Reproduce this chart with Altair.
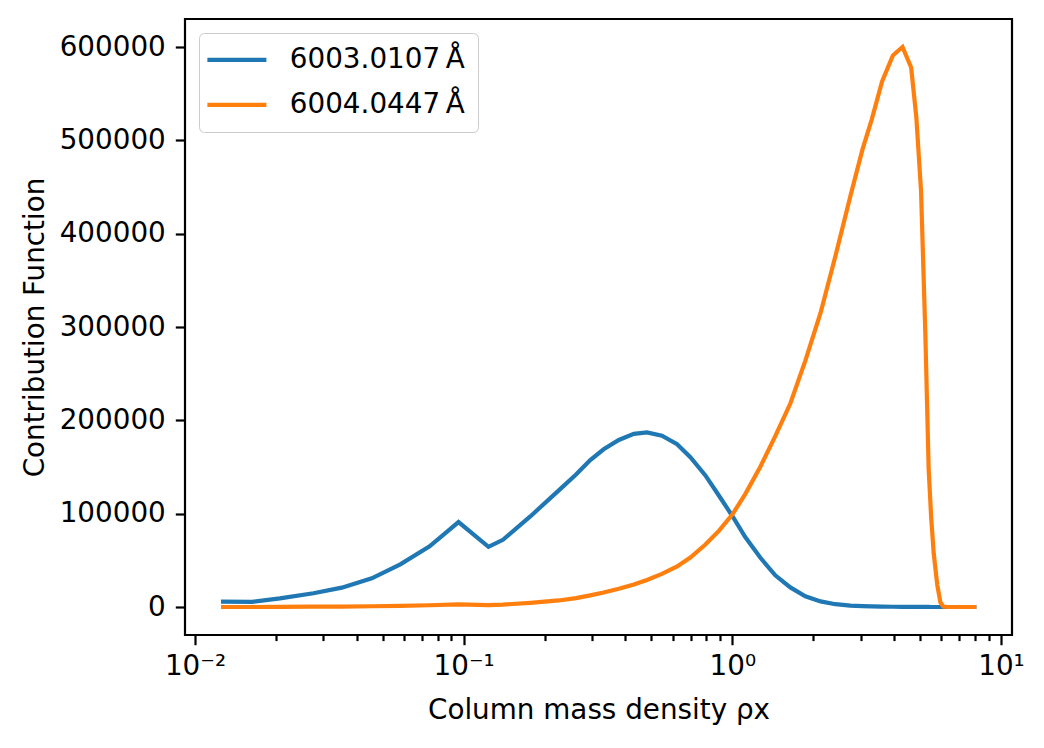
import altair as alt
import pandas as pd

# column mass density grid shared by both lines
col_mass = [0.0125, 0.0163, 0.0207, 0.0276, 0.0352, 0.0455, 0.0581, 0.0747, 0.0957, 0.1237,
            0.140, 0.177, 0.226, 0.262, 0.296, 0.332, 0.378, 0.430, 0.481, 0.547,
            0.623, 0.698, 0.794, 0.891, 1.0, 1.117, 1.27, 1.445, 1.644, 1.87,
            2.13, 2.42, 2.75, 3.05, 3.30, 3.61, 3.96, 4.30, 4.63, 4.84,
            5.04, 5.23, 5.38, 5.50, 5.62, 5.79, 5.95, 6.10, 6.30, 6.70,
            7.20, 7.70, 8.10]

# contribution function of each line
cf_6003 = [5700, 5500, 9300, 14700, 20700, 30700, 45700, 65000, 91000, 64500,
           72000, 97000, 125000, 142000, 157500, 169000, 179000, 185500, 187000, 183500,
           174500, 160500, 141000, 119500, 97500, 75000, 53000, 34000, 21000, 11500,
           6000, 3000, 1500, 900, 600, 400, 250, 150, 100, 80,
           60, 40, 30, 20, 10, 0, 0, 0, 0, 0,
           0, 0, 0]
cf_6004 = [0, 0, 200, 300, 500, 800, 1200, 1900, 2900, 2000,
           2600, 4500, 7000, 9500, 12500, 15500, 19500, 24000, 29000, 35500,
           43500, 53000, 67000, 81500, 99000, 121000, 150000, 183000, 218000, 264000,
           315000, 376000, 440000, 490000, 522000, 563000, 591000, 600000, 578000, 525000,
           446000, 292000, 148000, 95000, 57000, 24000, 5000, 500, 0, 0,
           0, 0, 0]

line_names = ["6003.0107\u2009Å", "6004.0447\u2009Å"]
line_colors = ["#1f77b4", "#ff7f0e"]

# axis ticks
major_ticks = [0.01, 0.1, 1, 10]
major_labels = ["10⁻²", "10⁻¹", "10⁰", "10¹"]
minor_ticks = [0.02, 0.03, 0.04, 0.05, 0.06, 0.07, 0.08, 0.09,
               0.2, 0.3, 0.4, 0.5, 0.6, 0.7, 0.8, 0.9,
               2, 3, 4, 5, 6, 7, 8, 9]
y_ticks = [0, 100000, 200000, 300000, 400000, 500000, 600000]

df = pd.concat([
    pd.DataFrame({"rho": col_mass, "cf": cf_6003, "line": line_names[0]}),
    pd.DataFrame({"rho": col_mass, "cf": cf_6004, "line": line_names[1]}),
])

# pick the superscript label for each decade
label_expr = "'" + major_labels[-1] + "'"
for v, lab in reversed(list(zip(major_ticks[:-1], major_labels[:-1]))):
    label_expr = f"datum.value < {v * 3.16} ? '{lab}' : " + label_expr

font = "DejaVu Sans"
xscale = alt.Scale(type="log", domain=[0.00918, 10.99], nice=False)

lines = alt.Chart(df).mark_line(strokeWidth=4.2).encode(
    x=alt.X("rho:Q", scale=xscale,
            axis=alt.Axis(values=major_ticks, labelExpr=label_expr, orient="bottom",
                          title="Column mass density ρx", tickSize=9.7, labelPadding=8,
                          titleX=413.5, titleY=83, titleBaseline="alphabetic")),
    y=alt.Y("cf:Q", scale=alt.Scale(domain=[-30000, 630000], nice=False, zero=False),
            axis=alt.Axis(values=y_ticks, format="d", title="Contribution Function",
                          orient="left", tickSize=9.7, labelPadding=10,
                          titleX=-142, titleY=308, titleBaseline="alphabetic")),
    color=alt.Color("line:N", scale=alt.Scale(domain=line_names, range=line_colors),
                    legend=alt.Legend(title=None, orient="none", legendX=14, legendY=14,
                                      symbolType="M-3,0H3", symbolSize=387, symbolOffset=11,
                                      symbolStrokeWidth=4.2, labelFont=font,
                                      labelFontSize=27.8, labelColor="black", labelLimit=400,
                                      labelOffset=39, rowPadding=16, padding=13,
                                      strokeColor="#cccccc", fillColor="rgba(255,255,255,0.8)",
                                      cornerRadius=5)),
)

# minor log ticks on a second, label-less axis
minor = alt.Chart(df).mark_line(opacity=0).encode(
    x=alt.X("rho:Q", scale=xscale,
            axis=alt.Axis(values=minor_ticks, labels=False, title=None, orient="bottom",
                          tickSize=5.6)),
    y=alt.Y("cf:Q", axis=None),
)

chart = alt.layer(lines, minor).resolve_axis(x="independent", y="independent").properties(
    width=827, height=616,
    autosize=alt.AutoSizeParams(type="none"),
    padding={"left": 177, "top": 11, "right": 24, "bottom": 105},
).configure_view(
    stroke="black", strokeWidth=2.2
).configure_axis(
    labelFont=font, labelFontSize=27.8, labelColor="black",
    titleFont=font, titleFontSize=27.8, titleFontWeight="normal", titleColor="black",
    tickColor="black", tickWidth=2.2, domain=False, grid=False,
)

chart.save("out.html", embed_options={"renderer": "svg", "actions": False})
